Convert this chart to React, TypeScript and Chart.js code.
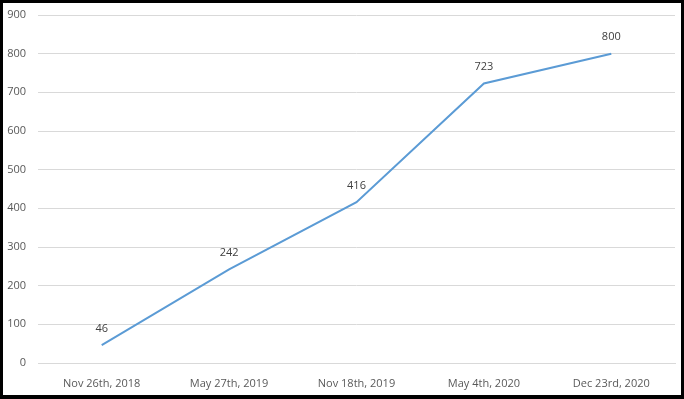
import React, { useEffect, useRef } from "react";
import { Chart, registerables } from "chart.js";

Chart.register(...registerables);

const categories = ["Nov 26th, 2018", "May 27th, 2019", "Nov 18th, 2019", "May 4th, 2020", "Dec 23rd, 2020"];
const values = [46, 242, 416, 723, 800];
const yMin = 0;
const yMax = 900;
const yStep = 100;

const FONT = "'Open Sans', 'Noto Sans', sans-serif";

const labelsPlugin = {
  id: "pointLabels",
  afterDatasetsDraw(chart: any) {
    const ctx = chart.ctx;
    const meta = chart.getDatasetMeta(0);
    ctx.save();
    ctx.font = `11px ${FONT}`;
    ctx.fillStyle = "#404040";
    ctx.textAlign = "center";
    ctx.textBaseline = "bottom";
    meta.data.forEach((pt: any, i: number) => {
      ctx.fillText(String(values[i]), pt.x, pt.y - 11);
    });
    ctx.restore();
  },
};

const borderPlugin = {
  id: "outerBorder",
  afterDraw(chart: any) {
    const ctx = chart.ctx;
    ctx.save();
    ctx.strokeStyle = "#000";
    ctx.lineWidth = 4;
    ctx.strokeRect(1, 1, chart.width - 2, chart.height - 3);
    ctx.restore();
  },
};

export default function App() {
  const ref = useRef<HTMLCanvasElement>(null);
  useEffect(() => {
    document.body.style.margin = "0";
    const chart = new Chart(ref.current!, {
      type: "line",
      data: {
        labels: categories,
        datasets: [
          {
            data: values,
            borderColor: "#5B9BD5",
            borderWidth: 2,
            pointRadius: 0,
            tension: 0,
            fill: false,
          },
        ],
      },
      options: {
        animation: false,
        responsive: false,
        layout: { padding: { top: 15, right: 9, left: 0, bottom: 0 } },
        plugins: { legend: { display: false }, tooltip: { enabled: false } },
        scales: {
          x: {
            offset: true,
            grid: { display: false },
            border: { color: "#d9d9d9" },
            ticks: { color: "#595959", font: { family: FONT, size: 11 }, padding: 6, maxRotation: 0 },
            afterFit(scale: any) {
              scale.height = 36;
            },
          },
          y: {
            min: yMin,
            max: yMax,
            grid: { color: "#d9d9d9", drawTicks: false },
            border: { display: false },
            ticks: { stepSize: yStep, color: "#595959", font: { family: FONT, size: 11 }, padding: 12 },
            afterFit(scale: any) {
              scale.width = 38;
              scale.paddingTop = 0;
              scale.paddingBottom = 0;
            },
          },
        },
      },
      plugins: [labelsPlugin, borderPlugin],
    });
    return () => chart.destroy();
  }, []);
  return (
    <div style={{ width: 684, height: 399 }}>
      <canvas ref={ref} width={684} height={399} style={{ display: "block" }} />
    </div>
  );
}
